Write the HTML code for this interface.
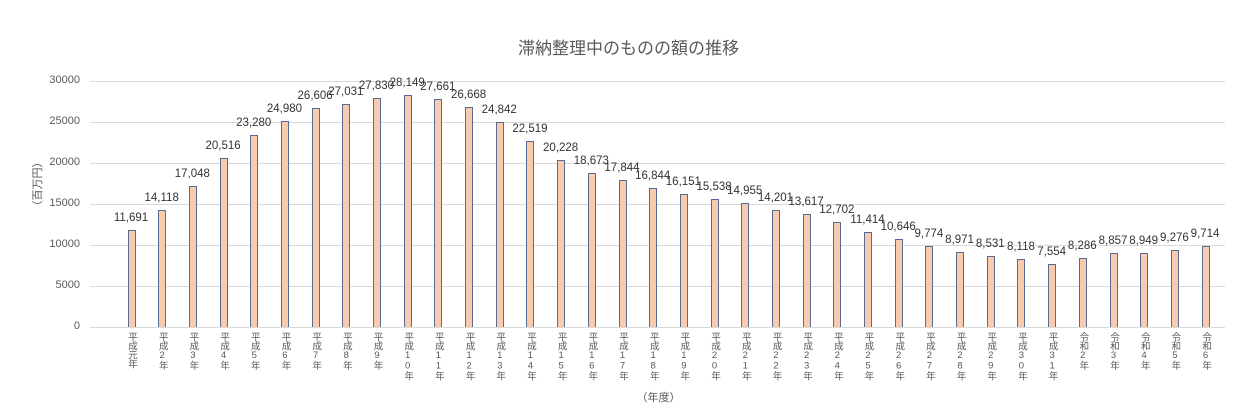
<!DOCTYPE html>
<html><head><meta charset="utf-8"><style>
body{margin:0;width:1257px;height:419px;background:#fff;font-family:"Liberation Sans","Noto Sans CJK JP",sans-serif;position:relative;overflow:hidden}
.t{position:absolute;left:0;width:1257px;top:34px;text-align:center;font-size:17px;color:#595959}
.g{position:absolute;left:90px;width:1135px;height:1px;background:#d9d9d9}
.yl{position:absolute;left:40px;width:40px;text-align:right;font-size:11px;color:#595959}
.row{position:absolute;left:116px;top:0;height:419px;display:flex}
.c{width:30.69px;position:relative;height:419px}
.b{position:absolute;bottom:92px;left:11.5px;width:6px;background:#f8cbad;border:1px solid #5a6a96;border-bottom:none}
.v{position:absolute;left:-20px;width:70px;text-align:center;font-size:11.5px;color:#333;margin-top:-1px}
.x{position:absolute;top:332px;left:9px;writing-mode:vertical-rl;text-orientation:upright;font-size:9.5px;line-height:12px;color:#595959;letter-spacing:-0.5px}
</style></head><body>
<div class="t">滞納整理中のものの額の推移</div>
<div class="g" style="top:81px"></div><div class="g" style="top:122px"></div><div class="g" style="top:163px"></div><div class="g" style="top:204px"></div><div class="g" style="top:245px"></div><div class="g" style="top:286px"></div><div class="g" style="top:327px"></div>
<div class="yl" style="top:74px">30000</div><div class="yl" style="top:115px">25000</div><div class="yl" style="top:156px">20000</div><div class="yl" style="top:197px">15000</div><div class="yl" style="top:238px">10000</div><div class="yl" style="top:279px">5000</div><div class="yl" style="top:320px">0</div>
<div style="position:absolute;left:2px;top:176px;width:70px;text-align:center;transform:rotate(-90deg);font-size:11px;color:#595959">（百万円）</div>
<div style="position:absolute;left:0;width:1257px;top:389px;text-align:center;font-size:11px;color:#595959;padding-left:60px;box-sizing:border-box">（年度）</div>
<div class="row">
<div class="c"><div class="b" style="height:96px"></div><div class="v" style="top:213px">11,691</div><div class="x">平成元年</div></div>
<div class="c"><div class="b" style="height:116px"></div><div class="v" style="top:193px">14,118</div><div class="x">平成2年</div></div>
<div class="c"><div class="b" style="height:140px"></div><div class="v" style="top:169px">17,048</div><div class="x">平成3年</div></div>
<div class="c"><div class="b" style="height:168px"></div><div class="v" style="top:141px">20,516</div><div class="x">平成4年</div></div>
<div class="c"><div class="b" style="height:191px"></div><div class="v" style="top:118px">23,280</div><div class="x">平成5年</div></div>
<div class="c"><div class="b" style="height:205px"></div><div class="v" style="top:104px">24,980</div><div class="x">平成6年</div></div>
<div class="c"><div class="b" style="height:218px"></div><div class="v" style="top:91px">26,606</div><div class="x">平成7年</div></div>
<div class="c"><div class="b" style="height:222px"></div><div class="v" style="top:87px">27,031</div><div class="x">平成8年</div></div>
<div class="c"><div class="b" style="height:228px"></div><div class="v" style="top:81px">27,830</div><div class="x">平成9年</div></div>
<div class="c"><div class="b" style="height:231px"></div><div class="v" style="top:78px">28,149</div><div class="x">平成10年</div></div>
<div class="c"><div class="b" style="height:227px"></div><div class="v" style="top:82px">27,661</div><div class="x">平成11年</div></div>
<div class="c"><div class="b" style="height:219px"></div><div class="v" style="top:90px">26,668</div><div class="x">平成12年</div></div>
<div class="c"><div class="b" style="height:204px"></div><div class="v" style="top:105px">24,842</div><div class="x">平成13年</div></div>
<div class="c"><div class="b" style="height:185px"></div><div class="v" style="top:124px">22,519</div><div class="x">平成14年</div></div>
<div class="c"><div class="b" style="height:166px"></div><div class="v" style="top:143px">20,228</div><div class="x">平成15年</div></div>
<div class="c"><div class="b" style="height:153px"></div><div class="v" style="top:156px">18,673</div><div class="x">平成16年</div></div>
<div class="c"><div class="b" style="height:146px"></div><div class="v" style="top:163px">17,844</div><div class="x">平成17年</div></div>
<div class="c"><div class="b" style="height:138px"></div><div class="v" style="top:171px">16,844</div><div class="x">平成18年</div></div>
<div class="c"><div class="b" style="height:132px"></div><div class="v" style="top:177px">16,151</div><div class="x">平成19年</div></div>
<div class="c"><div class="b" style="height:127px"></div><div class="v" style="top:182px">15,538</div><div class="x">平成20年</div></div>
<div class="c"><div class="b" style="height:123px"></div><div class="v" style="top:186px">14,955</div><div class="x">平成21年</div></div>
<div class="c"><div class="b" style="height:116px"></div><div class="v" style="top:193px">14,201</div><div class="x">平成22年</div></div>
<div class="c"><div class="b" style="height:112px"></div><div class="v" style="top:197px">13,617</div><div class="x">平成23年</div></div>
<div class="c"><div class="b" style="height:104px"></div><div class="v" style="top:205px">12,702</div><div class="x">平成24年</div></div>
<div class="c"><div class="b" style="height:94px"></div><div class="v" style="top:215px">11,414</div><div class="x">平成25年</div></div>
<div class="c"><div class="b" style="height:87px"></div><div class="v" style="top:222px">10,646</div><div class="x">平成26年</div></div>
<div class="c"><div class="b" style="height:80px"></div><div class="v" style="top:229px">9,774</div><div class="x">平成27年</div></div>
<div class="c"><div class="b" style="height:74px"></div><div class="v" style="top:235px">8,971</div><div class="x">平成28年</div></div>
<div class="c"><div class="b" style="height:70px"></div><div class="v" style="top:239px">8,531</div><div class="x">平成29年</div></div>
<div class="c"><div class="b" style="height:67px"></div><div class="v" style="top:242px">8,118</div><div class="x">平成30年</div></div>
<div class="c"><div class="b" style="height:62px"></div><div class="v" style="top:247px">7,554</div><div class="x">平成31年</div></div>
<div class="c"><div class="b" style="height:68px"></div><div class="v" style="top:241px">8,286</div><div class="x">令和2年</div></div>
<div class="c"><div class="b" style="height:73px"></div><div class="v" style="top:236px">8,857</div><div class="x">令和3年</div></div>
<div class="c"><div class="b" style="height:73px"></div><div class="v" style="top:236px">8,949</div><div class="x">令和4年</div></div>
<div class="c"><div class="b" style="height:76px"></div><div class="v" style="top:233px">9,276</div><div class="x">令和5年</div></div>
<div class="c"><div class="b" style="height:80px"></div><div class="v" style="top:229px">9,714</div><div class="x">令和6年</div></div>
</div>
</body></html>
